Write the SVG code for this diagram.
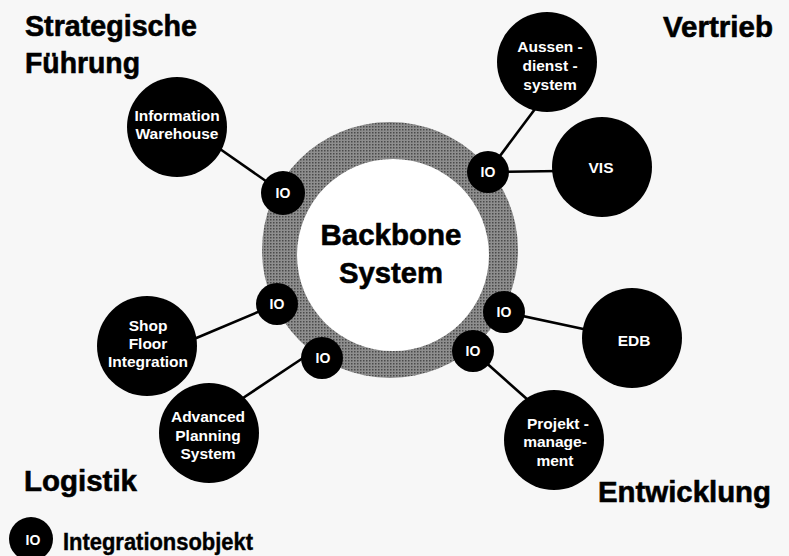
<svg xmlns="http://www.w3.org/2000/svg" width="789" height="556" viewBox="0 0 789 556">
<defs>
<pattern id="halftone" width="3" height="3" patternUnits="userSpaceOnUse">
<rect width="3" height="3" fill="#8e8e8e"/>
<rect width="1.5" height="1.5" fill="#4a4a4a"/>
</pattern>
<style>
.t{font-family:"Liberation Sans",Arial,sans-serif;font-weight:bold;}
.title{font-size:30px;fill:#000;stroke:#000;stroke-width:0.6;}
.node circle{fill:#000;}
.node text{font-size:15.5px;fill:#fff;text-anchor:middle;}
.io circle{fill:#000;}
.io text{font-size:14px;fill:#fff;text-anchor:middle;}
.conn line{stroke:#000;stroke-width:2.6;}
</style>
</defs>
<rect width="789" height="556" fill="#f7f7f7"/>

<g id="titles" class="t title">
<text x="25" y="36" textLength="172" lengthAdjust="spacingAndGlyphs">Strategische</text>
<text x="25" y="73" textLength="115" lengthAdjust="spacingAndGlyphs">Führung</text>
<text x="663" y="37" textLength="110" lengthAdjust="spacingAndGlyphs">Vertrieb</text>
<text x="24" y="491" textLength="113" lengthAdjust="spacingAndGlyphs">Logistik</text>
<text x="598" y="502" textLength="173" lengthAdjust="spacingAndGlyphs">Entwicklung</text>
</g>

<g id="connectors" class="conn">
<line x1="283" y1="193" x2="220" y2="149"/>
<line x1="488" y1="172" x2="535" y2="109"/>
<line x1="488" y1="172" x2="560" y2="171"/>
<line x1="504" y1="312" x2="588" y2="330"/>
<line x1="473" y1="351" x2="528" y2="400"/>
<line x1="277" y1="304" x2="194" y2="339"/>
<line x1="306" y1="356" x2="240" y2="400"/>
</g>

<g id="backbone">
<circle cx="390" cy="250" r="128" fill="url(#halftone)"/>
<circle cx="393" cy="255" r="96" fill="#fff"/>
<text class="t title" x="391" y="245" font-size="29" text-anchor="middle" textLength="141" lengthAdjust="spacingAndGlyphs">Backbone</text>
<text class="t title" x="391" y="283" font-size="29" text-anchor="middle" textLength="104" lengthAdjust="spacingAndGlyphs">System</text>
</g>

<g id="information-warehouse" class="node t">
<circle cx="177" cy="127" r="50"/>
<text x="177" y="121">Information</text>
<text x="177" y="139">Warehouse</text>
</g>

<g id="aussendienstsystem" class="node t">
<circle cx="547" cy="62" r="50"/>
<text x="550" y="52">Aussen -</text>
<text x="550" y="71">dienst -</text>
<text x="550" y="90">system</text>
</g>

<g id="vis" class="node t">
<circle cx="602" cy="167" r="50"/>
<text x="601" y="173">VIS</text>
</g>

<g id="edb" class="node t">
<circle cx="632" cy="338" r="50"/>
<text x="634" y="346">EDB</text>
</g>

<g id="projektmanagement" class="node t">
<circle cx="554" cy="440" r="50"/>
<text x="558" y="429">Projekt -</text>
<text x="555" y="447">manage-</text>
<text x="555" y="466">ment</text>
</g>

<g id="shop-floor-integration" class="node t">
<circle cx="147" cy="346" r="50"/>
<text x="148" y="331">Shop</text>
<text x="148" y="349">Floor</text>
<text x="148" y="367">Integration</text>
</g>

<g id="advanced-planning-system" class="node t">
<circle cx="209" cy="433" r="50"/>
<text x="208" y="422">Advanced</text>
<text x="208" y="441">Planning</text>
<text x="208" y="459">System</text>
</g>

<g id="io-1" class="io t"><circle cx="283" cy="193" r="22"/><text x="283" y="198">IO</text></g>
<g id="io-2" class="io t"><circle cx="488" cy="172" r="21"/><text x="488" y="177">IO</text></g>
<g id="io-3" class="io t"><circle cx="277" cy="304" r="21"/><text x="277" y="309">IO</text></g>
<g id="io-4" class="io t"><circle cx="322" cy="358" r="21"/><text x="323" y="363">IO</text></g>
<g id="io-5" class="io t"><circle cx="504" cy="312" r="21"/><text x="504" y="317">IO</text></g>
<g id="io-6" class="io t"><circle cx="473" cy="351" r="21"/><text x="473" y="356">IO</text></g>

<g id="legend">
<g class="io t"><circle cx="31" cy="539" r="22"/><text x="33" y="545">IO</text></g>
<text class="t title" x="63" y="550" font-size="23" style="font-size:23px;stroke-width:0.4" textLength="190" lengthAdjust="spacingAndGlyphs">Integrationsobjekt</text>
</g>
</svg>
